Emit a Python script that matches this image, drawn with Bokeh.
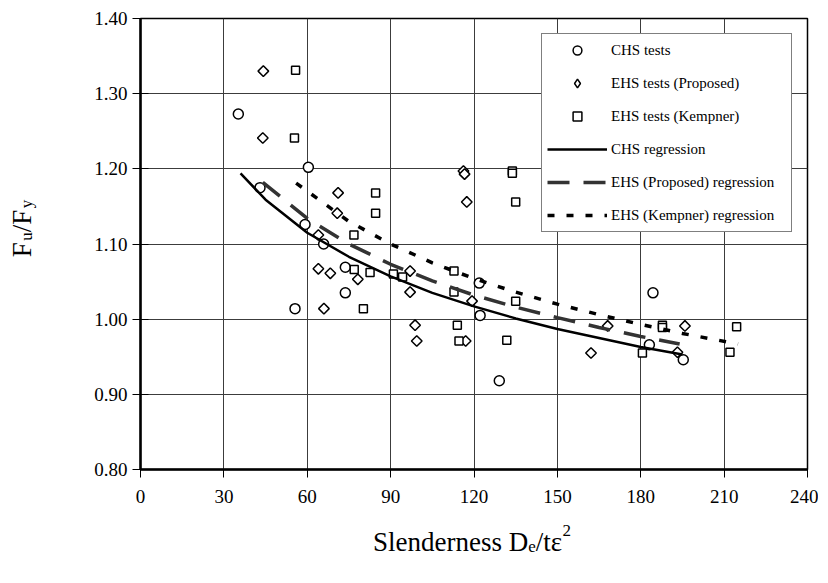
import math
from bokeh.plotting import figure
from bokeh.models import Range1d, FixedTicker, Label, NumeralTickFormatter
from bokeh.embed import file_html
from bokeh.resources import INLINE

# ---- data ----
chs_x = [35.2, 60.4, 43.0, 59.2, 65.9, 73.7, 73.7, 55.6, 121.9, 122.2, 129.1, 184.4, 183.1, 195.3]
chs_y = [1.273, 1.202, 1.175, 1.126, 1.100, 1.069, 1.035, 1.014, 1.048, 1.005, 0.918, 1.035, 0.966, 0.946]

ehsp_x = [44.2, 44.0, 71.1, 70.8, 64.0, 64.0, 68.3, 78.2, 66.0, 116.2, 116.6, 117.4, 97.0, 97.0,
          119.3, 98.8, 99.4, 117.0, 168.1, 162.1, 195.9, 193.2]
ehsp_y = [1.330, 1.241, 1.168, 1.141, 1.112, 1.067, 1.061, 1.053, 1.014, 1.197, 1.193, 1.156, 1.064, 1.036,
          1.024, 0.992, 0.971, 0.971, 0.991, 0.955, 0.991, 0.956]

ehsk_x = [55.8, 55.4, 84.6, 84.6, 76.8, 76.9, 82.6, 80.2, 91.0, 94.3, 112.8, 112.8, 133.8, 133.8,
          135.0, 135.0, 114.0, 114.6, 131.8, 187.8, 187.8, 214.5, 180.6, 212.1]
ehsk_y = [1.331, 1.241, 1.168, 1.141, 1.112, 1.066, 1.062, 1.014, 1.060, 1.056, 1.064, 1.036, 1.197, 1.194,
          1.156, 1.024, 0.992, 0.971, 0.972, 0.992, 0.989, 0.990, 0.955, 0.956]

chs_reg_x = [36, 45, 60, 75, 90, 105, 120, 135, 150, 165, 180, 195]
chs_reg_y = [1.194, 1.159, 1.115, 1.083, 1.057, 1.035, 1.017, 1.001, 0.987, 0.975, 0.963, 0.953]

ehsp_reg_x = [44, 60, 75, 90, 105, 120, 135, 150, 165, 180, 194]
ehsp_reg_y = [1.182, 1.134, 1.100, 1.073, 1.051, 1.032, 1.016, 1.002, 0.989, 0.977, 0.967]

ehsk_reg_x = [56, 75, 90, 105, 120, 135, 150, 165, 180, 195, 215]
ehsk_reg_y = [1.181, 1.130, 1.100, 1.075, 1.054, 1.036, 1.020, 1.006, 0.993, 0.981, 0.967]

x_ticks = [0, 30, 60, 90, 120, 150, 180, 210, 240]
y_ticks = [0.8, 0.9, 1.0, 1.1, 1.2, 1.3, 1.4]

FONT = "Liberation Serif"

p = figure(output_backend="svg", toolbar_location=None,
           frame_width=667, frame_height=451,
           min_border_left=140, min_border_right=11, min_border_top=18, min_border_bottom=100,
           x_range=Range1d(0, 240), y_range=Range1d(0.8, 1.4))
p.background_fill_color = "white"
p.border_fill_color = "white"
p.outline_line_color = "black"
p.outline_line_width = 1.5

for ax in (p.xaxis, p.yaxis):
    ax.axis_line_color = "black"
    ax.axis_line_width = 2.5
    ax.major_tick_line_color = "black"
    ax.major_tick_line_width = 1
    ax.minor_tick_line_color = None
    ax.major_label_text_font = FONT
    ax.major_label_text_font_size = "19px"
    ax.major_label_text_color = "black"

p.xaxis.ticker = FixedTicker(ticks=x_ticks)
p.yaxis.ticker = FixedTicker(ticks=y_ticks)
p.yaxis.formatter = NumeralTickFormatter(format="0.00")
p.xaxis.major_tick_out = 8
p.xaxis.major_tick_in = 0
p.yaxis.major_tick_out = 8
p.yaxis.major_tick_in = 8
p.xaxis.major_label_standoff = 12
p.yaxis.major_label_standoff = 5

p.xgrid.ticker = FixedTicker(ticks=x_ticks)
p.ygrid.ticker = FixedTicker(ticks=y_ticks)
p.grid.grid_line_color = "#3c3c3c"
p.grid.grid_line_width = 1

p.scatter(chs_x, chs_y, marker="circle", size=10, fill_color="white",
          line_color="black", line_width=1.5, legend_label="CHS tests")
p.scatter(ehsp_x, ehsp_y, marker="square", angle=math.pi / 4, size=7.5, fill_color="white",
          line_color="black", line_width=1.5)
# legend-only diamond glyph (no visible point)
p.scatter(x=[float("nan")], y=[float("nan")], marker="diamond", size=12, fill_color="white",
          line_color="black", line_width=1.5, legend_label="EHS tests (Proposed)")
p.scatter(ehsk_x, ehsk_y, marker="square", size=8, fill_color="white",
          line_color="black", line_width=1.5, legend_label="EHS tests (Kempner)")

p.line(chs_reg_x, chs_reg_y, line_color="black", line_width=2.5, legend_label="CHS regression")
p.line(ehsp_reg_x, ehsp_reg_y, line_color="#333333", line_width=3.5, line_dash="22 14",
       legend_label="EHS (Proposed) regression")
p.line(ehsk_reg_x, ehsk_reg_y, line_color="black", line_width=3.5, line_dash="7 12",
       legend_label="EHS (Kempner) regression")

lg = p.legend[0]
lg.location = "top_right"
lg.margin = 15
lg.padding = 5
lg.spacing = 11
lg.glyph_height = 22
lg.label_height = 22
lg.glyph_width = 60
lg.label_width = 175
lg.label_standoff = 4
lg.label_text_font = FONT
lg.label_text_font_size = "15px"
lg.label_text_color = "black"
lg.border_line_color = "black"
lg.border_line_width = 1
lg.background_fill_color = "white"
lg.background_fill_alpha = 1.0

# x-axis title: "Slenderness D_e/tε²" (data-anchored, placed in a side panel so it is not clipped)
xt = dict(x=120, y=0.8, text_font=FONT, text_color="black", text_align="left",
          text_baseline="alphabetic")
p.add_layout(Label(text="Slenderness D", x_offset=-101, y_offset=-72, text_font_size="27px", **xt), "below")
p.add_layout(Label(text="e", x_offset=54.2, y_offset=-77, text_font_size="17px", **xt), "below")
p.add_layout(Label(text="/tε", x_offset=61.7, y_offset=-72, text_font_size="27px", **xt), "below")
p.add_layout(Label(text="2", x_offset=88.6, y_offset=-61, text_font_size="17px", **xt), "below")

# y-axis title: "F_u/F_y" rotated
yt = dict(x=0, y=1.1, angle=math.pi / 2, text_font=FONT, text_color="black",
          text_align="left", text_baseline="alphabetic")
p.add_layout(Label(text="F", x_offset=-118.5, y_offset=-13.3, text_font_size="27px", **yt), "left")
p.add_layout(Label(text="u", x_offset=-114, y_offset=3.2, text_font_size="17px", **yt), "below")
p.add_layout(Label(text="/F", x_offset=-118.5, y_offset=11.7, text_font_size="27px", **yt), "left")
p.add_layout(Label(text="y", x_offset=-114, y_offset=35.7, text_font_size="17px", **yt), "below")

open("out.html", "w").write(file_html(p, INLINE))
